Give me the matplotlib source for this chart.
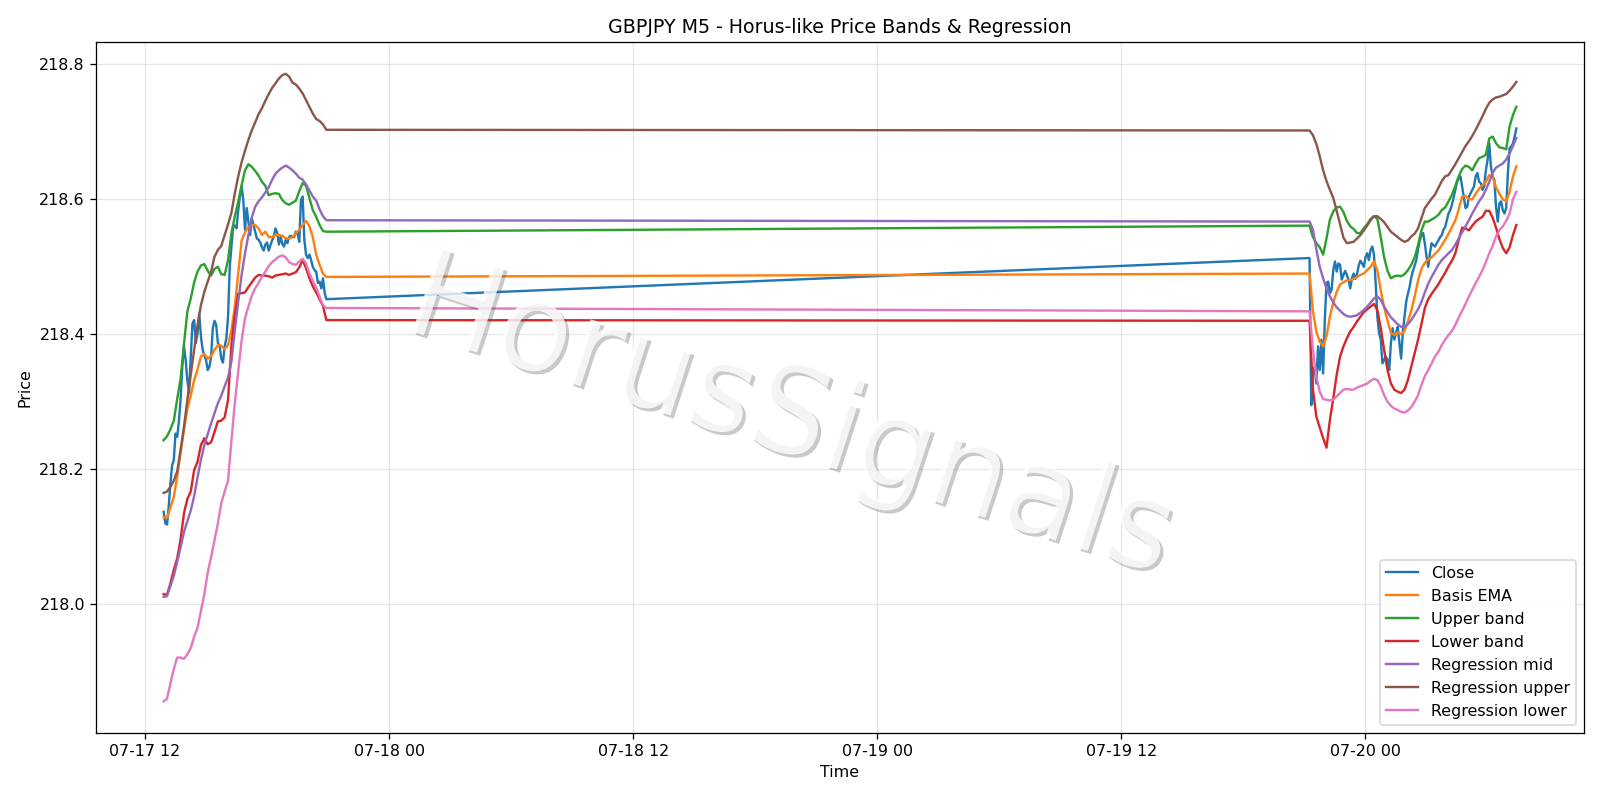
import numpy as np
import pandas as pd
import matplotlib
matplotlib.use('Agg')
import matplotlib.pyplot as plt
import matplotlib.dates as mdates
import matplotlib.patheffects as pe


# two sessions of M5 data, smooth lines read every 10 min, close every 5 min
t_left = pd.date_range('2025-07-17 12:55', '2025-07-17 20:55', freq='10min')
t_left_close = pd.date_range('2025-07-17 12:55', '2025-07-17 20:55', freq='5min')
t_right = pd.date_range('2025-07-19 21:15', '2025-07-20 07:25', freq='10min')
t_right_close = pd.date_range('2025-07-19 21:15', '2025-07-20 07:25', freq='5min')

close_left = [218.137, 218.120, 218.118, 218.145, 218.179, 218.206, 218.214, 218.253, 218.248, 218.271,
              218.303, 218.352, 218.382, 218.362, 218.332, 218.313, 218.367, 218.416, 218.421, 218.387,
              218.402, 218.431, 218.397, 218.377, 218.369, 218.362, 218.347, 218.352, 218.367, 218.409,
              218.420, 218.414, 218.387, 218.383, 218.364, 218.358, 218.382, 218.394, 218.426, 218.500,
              218.530, 218.560, 218.561, 218.557, 218.584, 218.604, 218.619, 218.599, 218.555, 218.587,
              218.567, 218.547, 218.572, 218.562, 218.552, 218.542, 218.540, 218.536, 218.529, 218.524,
              218.533, 218.536, 218.524, 218.532, 218.539, 218.545, 218.557, 218.550, 218.533, 218.545,
              218.534, 218.530, 218.540, 218.535, 218.544, 218.546, 218.544, 218.544, 218.552, 218.550,
              218.537, 218.599, 218.604, 218.540, 218.518, 218.513, 218.518, 218.510, 218.500, 218.495,
              218.493, 218.476, 218.478, 218.468, 218.483, 218.461, 218.452]
close_right = [218.513, 218.295, 218.342, 218.352, 218.327, 218.382, 218.347, 218.392, 218.342, 218.421,
               218.476, 218.478, 218.461, 218.466, 218.495, 218.508, 218.493, 218.505, 218.503, 218.481,
               218.488, 218.494, 218.488, 218.481, 218.468, 218.483, 218.490, 218.482, 218.489, 218.502,
               218.509, 218.505, 218.500, 218.514, 218.520, 218.510, 218.525, 218.530, 218.518, 218.476,
               218.426, 218.402, 218.392, 218.357, 218.362, 218.367, 218.362, 218.347, 218.387, 218.409,
               218.392, 218.402, 218.411, 218.387, 218.364, 218.402, 218.426, 218.448, 218.460, 218.470,
               218.484, 218.494, 218.502, 218.510, 218.526, 218.539, 218.547, 218.550, 218.535, 218.515,
               218.500, 218.520, 218.535, 218.532, 218.530, 218.535, 218.539, 218.544, 218.547, 218.555,
               218.559, 218.569, 218.579, 218.584, 218.592, 218.603, 218.614, 218.626, 218.631, 218.634,
               218.619, 218.603, 218.587, 218.589, 218.604, 218.609, 218.614, 218.619, 218.634, 218.639,
               218.626, 218.624, 218.614, 218.619, 218.643, 218.658, 218.683, 218.648, 218.634, 218.629,
               218.589, 218.567, 218.594, 218.597, 218.584, 218.579, 218.587, 218.639, 218.676, 218.678,
               218.683, 218.693, 218.705]

ema_left = [218.129, 218.128, 218.143, 218.159, 218.189, 218.224, 218.258, 218.290, 218.309, 218.332,
            218.348, 218.367, 218.371, 218.364, 218.368, 218.377, 218.384, 218.383, 218.378, 218.384,
            218.406, 218.441, 218.490, 218.539, 218.551, 218.559, 218.562, 218.562, 218.557, 218.547,
            218.552, 218.544, 218.544, 218.547, 218.547, 218.546, 218.542, 218.542, 218.544, 218.549,
            218.555, 218.562, 218.568, 218.560, 218.544, 218.518, 218.503, 218.490, 218.485]
ema_right = [218.490, 218.434, 218.404, 218.389, 218.382, 218.397, 218.426, 218.447, 218.463, 218.474,
             218.477, 218.480, 218.480, 218.482, 218.485, 218.488, 218.490, 218.495, 218.500, 218.508,
             218.495, 218.465, 218.440, 218.420, 218.402, 218.399, 218.403, 218.400, 218.405, 218.419,
             218.435, 218.456, 218.480, 218.497, 218.506, 218.511, 218.514, 218.519, 218.524, 218.532,
             218.540, 218.549, 218.559, 218.569, 218.585, 218.604, 218.605, 218.600, 218.600, 218.608,
             218.616, 218.621, 218.626, 218.636, 218.633, 218.618, 218.608, 218.600, 218.597, 218.611,
             218.634, 218.649]

upper_left = [218.243, 218.249, 218.259, 218.272, 218.304, 218.334, 218.385, 218.434, 218.453, 218.477,
              218.493, 218.502, 218.504, 218.494, 218.487, 218.497, 218.500, 218.489, 218.488, 218.510,
              218.550, 218.575, 218.596, 218.621, 218.643, 218.652, 218.648, 218.642, 218.635, 218.626,
              218.620, 218.606, 218.608, 218.609, 218.608, 218.599, 218.594, 218.592, 218.595, 218.598,
              218.612, 218.624, 218.620, 218.602, 218.584, 218.574, 218.562, 218.553, 218.552]
upper_right = [218.561, 218.544, 218.535, 218.529, 218.518, 218.542, 218.570, 218.582, 218.588, 218.589,
               218.581, 218.568, 218.560, 218.556, 218.550, 218.550, 218.557, 218.563, 218.571, 218.575,
               218.571, 218.544, 218.514, 218.494, 218.483, 218.486, 218.487, 218.486, 218.489, 218.495,
               218.503, 218.514, 218.532, 218.554, 218.567, 218.567, 218.570, 218.573, 218.577, 218.584,
               218.588, 218.597, 218.607, 218.620, 218.634, 218.645, 218.650, 218.648, 218.643, 218.653,
               218.661, 218.663, 218.666, 218.690, 218.693, 218.683, 218.677, 218.676, 218.674, 218.708,
               218.725, 218.737]

lower_left = [218.015, 218.014, 218.031, 218.051, 218.068, 218.096, 218.135, 218.156, 218.167, 218.199,
              218.211, 218.236, 218.246, 218.237, 218.240, 218.255, 218.271, 218.272, 218.277, 218.303,
              218.384, 218.429, 218.460, 218.461, 218.462, 218.470, 218.477, 218.484, 218.488, 218.487,
              218.487, 218.486, 218.484, 218.487, 218.488, 218.489, 218.490, 218.488, 218.490, 218.492,
              218.499, 218.510, 218.498, 218.483, 218.471, 218.462, 218.452, 218.442, 218.421]
lower_right = [218.420, 218.318, 218.278, 218.262, 218.246, 218.232, 218.273, 218.305, 218.340, 218.367,
               218.382, 218.394, 218.404, 218.411, 218.419, 218.426, 218.433, 218.437, 218.441, 218.445,
               218.436, 218.409, 218.377, 218.347, 218.327, 218.318, 218.315, 218.313, 218.318, 218.332,
               218.352, 218.372, 218.392, 218.415, 218.439, 218.452, 218.460, 218.467, 218.474, 218.483,
               218.491, 218.501, 218.509, 218.520, 218.540, 218.558, 218.557, 218.554, 218.561, 218.567,
               218.571, 218.574, 218.583, 218.583, 218.573, 218.558, 218.541, 218.528, 218.520, 218.529,
               218.547, 218.562]

reg_mid_left = [218.011, 218.012, 218.027, 218.042, 218.063, 218.084, 218.107, 218.123, 218.139, 218.160,
                218.188, 218.214, 218.236, 218.252, 218.268, 218.283, 218.298, 218.309, 218.323, 218.336,
                218.360, 218.406, 218.448, 218.488, 218.520, 218.547, 218.573, 218.589, 218.597, 218.603,
                218.610, 218.618, 218.629, 218.638, 218.643, 218.647, 218.650, 218.647, 218.643, 218.638,
                218.632, 218.629, 218.622, 218.613, 218.604, 218.598, 218.585, 218.575, 218.569]
reg_mid_right = [218.567, 218.555, 218.526, 218.500, 218.483, 218.468, 218.456, 218.447, 218.440, 218.435,
                 218.430, 218.427, 218.426, 218.427, 218.428, 218.432, 218.436, 218.441, 218.447, 218.453,
                 218.456, 218.451, 218.441, 218.433, 218.425, 218.420, 218.415, 218.411, 218.411, 218.415,
                 218.421, 218.429, 218.437, 218.448, 218.462, 218.475, 218.485, 218.494, 218.503, 218.510,
                 218.515, 218.520, 218.525, 218.533, 218.542, 218.551, 218.560, 218.569, 218.579, 218.588,
                 218.597, 218.604, 218.614, 218.626, 218.639, 218.647, 218.650, 218.653, 218.659, 218.668,
                 218.679, 218.691]

reg_up_left = [218.165, 218.167, 218.174, 218.183, 218.197, 218.229, 218.263, 218.303, 218.340, 218.377,
               218.414, 218.443, 218.463, 218.478, 218.493, 218.515, 218.525, 218.531, 218.547, 218.563,
               218.580, 218.609, 218.634, 218.655, 218.672, 218.688, 218.702, 218.714, 218.726, 218.735,
               218.746, 218.756, 218.765, 218.772, 218.779, 218.784, 218.786, 218.782, 218.773, 218.770,
               218.764, 218.757, 218.747, 218.737, 218.727, 218.719, 218.716, 218.711, 218.703]
reg_up_right = [218.702, 218.695, 218.682, 218.664, 218.643, 218.627, 218.614, 218.602, 218.583, 218.563,
                218.543, 218.535, 218.536, 218.537, 218.542, 218.547, 218.554, 218.561, 218.569, 218.575,
                218.575, 218.571, 218.566, 218.559, 218.552, 218.548, 218.544, 218.540, 218.537, 218.539,
                218.545, 218.549, 218.557, 218.572, 218.587, 218.594, 218.601, 218.607, 218.617, 218.627,
                218.634, 218.636, 218.644, 218.652, 218.661, 218.670, 218.679, 218.686, 218.694, 218.703,
                218.713, 218.723, 218.734, 218.743, 218.748, 218.751, 218.752, 218.754, 218.756, 218.761,
                218.767, 218.774]

reg_low_left = [217.856, 217.860, 217.883, 217.904, 217.921, 217.921, 217.919, 217.926, 217.935, 217.952,
                217.965, 217.990, 218.015, 218.047, 218.070, 218.095, 218.120, 218.150, 218.167, 218.183,
                218.243, 218.298, 218.345, 218.391, 218.424, 218.441, 218.457, 218.468, 218.476, 218.485,
                218.493, 218.501, 218.507, 218.511, 218.515, 218.517, 218.514, 218.507, 218.504, 218.503,
                218.508, 218.512, 218.505, 218.490, 218.479, 218.469, 218.456, 218.443, 218.439]
reg_low_right = [218.434, 218.377, 218.337, 218.315, 218.304, 218.303, 218.302, 218.303, 218.308, 218.313,
                 218.318, 218.319, 218.318, 218.318, 218.321, 218.323, 218.325, 218.327, 218.331, 218.334,
                 218.332, 218.323, 218.310, 218.300, 218.294, 218.290, 218.288, 218.285, 218.284, 218.287,
                 218.292, 218.300, 218.310, 218.325, 218.338, 218.347, 218.357, 218.367, 218.374, 218.384,
                 218.392, 218.399, 218.405, 218.414, 218.425, 218.435, 218.445, 218.456, 218.466, 218.476,
                 218.485, 218.495, 218.507, 218.520, 218.531, 218.545, 218.554, 218.560, 218.568, 218.579,
                 218.600, 218.611]

t_smooth = t_left.append(t_right)
t_close = t_left_close.append(t_right_close)

fig = plt.figure(figsize=(14, 7), dpi=1600 / 14)
ax = fig.add_subplot(111)
ax.plot(t_close, close_left + close_right, label='Close')
ax.plot(t_smooth, ema_left + ema_right, label='Basis EMA')
ax.plot(t_smooth, upper_left + upper_right, label='Upper band')
ax.plot(t_smooth, lower_left + lower_right, label='Lower band')
ax.plot(t_smooth, reg_mid_left + reg_mid_right, label='Regression mid')
ax.plot(t_smooth, reg_up_left + reg_up_right, label='Regression upper')
ax.plot(t_smooth, reg_low_left + reg_low_right, label='Regression lower')

ax.set_title('GBPJPY M5 - Horus-like Price Bands & Regression')
ax.set_xlabel('Time')
ax.set_ylabel('Price')
ax.xaxis.set_major_locator(mdates.HourLocator(byhour=[0, 12]))
ax.xaxis.set_major_formatter(mdates.DateFormatter('%m-%d %H'))
ax.grid(True, alpha=0.3)
ax.legend(loc='lower right')

# watermark
fig.text(0.494, 0.476, 'HorusSignals', fontsize=77, color='white', alpha=0.8,
         rotation=-18, ha='center', va='center',
         path_effects=[pe.withSimplePatchShadow(offset=(2, -2))])

plt.subplots_adjust(left=0.06, right=0.99, top=0.947, bottom=0.084)
plt.savefig('out.png')
